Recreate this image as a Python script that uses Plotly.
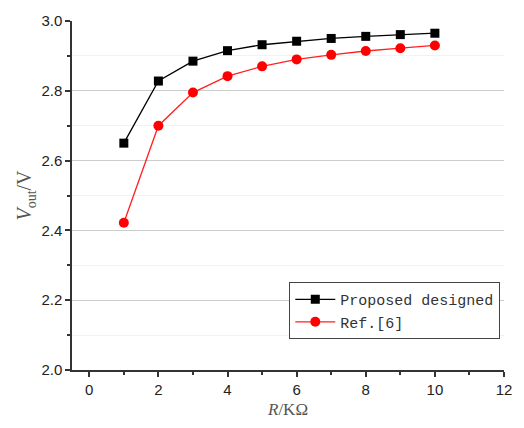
import plotly.graph_objects as go

r_kohm = [1, 2, 3, 4, 5, 6, 7, 8, 9, 10]
proposed = [2.650, 2.828, 2.885, 2.915, 2.932, 2.942, 2.950, 2.956, 2.961, 2.965]
ref6 = [2.422, 2.700, 2.795, 2.842, 2.870, 2.890, 2.903, 2.914, 2.922, 2.930]
series_names = ["Proposed designed", "Ref.[6]"]

fig = go.Figure()
fig.add_trace(go.Scatter(x=r_kohm, y=proposed, name=series_names[0], mode="lines+markers",
                         line=dict(color="black", width=1.3),
                         marker=dict(symbol="square", size=9, color="black")))
fig.add_trace(go.Scatter(x=r_kohm, y=ref6, name=series_names[1], mode="lines+markers",
                         line=dict(color="#ff2020", width=1.3),
                         marker=dict(symbol="circle", size=10, color="#ff0000")))

axis_font = dict(family="Liberation Sans, Arial", size=15, color="#222")
fig.update_layout(
    width=524, height=428,
    margin=dict(l=72, r=14, t=17, b=57),
    paper_bgcolor="white", plot_bgcolor="white",
    showlegend=True,
    legend=dict(x=0.503, y=0.252, xanchor="left", yanchor="top",
                bordercolor="#444", borderwidth=1, bgcolor="white",
                font=dict(family="Liberation Mono", size=15, color="#333"),
                tracegroupgap=0, itemwidth=40),
    xaxis=dict(range=[-0.5, 12], dtick=2, tick0=0, showgrid=False, zeroline=False,
               showline=True, linecolor="#333", linewidth=1.5,
               ticks="outside", ticklen=5, tickcolor="#333", tickwidth=1.5,
               tickfont=axis_font,
               minor=dict(dtick=1, ticks="outside", ticklen=3, tickcolor="#333", showgrid=False),
               title=dict(text="<i>R</i>/KΩ", font=dict(family="Liberation Serif", size=17, color="#555"),
                          standoff=6)),
    yaxis=dict(range=[2.0, 3.0], dtick=0.2, tick0=2.0, tickformat=".1f",
               showgrid=True, gridcolor="#cccccc", gridwidth=1, zeroline=False,
               showline=True, linecolor="#333", linewidth=1.5,
               ticks="outside", ticklen=5, tickcolor="#333", tickwidth=1.5,
               tickfont=axis_font,
               minor=dict(dtick=0.1, ticks="outside", ticklen=3, tickcolor="#333",
                          showgrid=True, gridcolor="#f2f2f2", gridwidth=1),
               title=dict(text="<i>V</i><sub>out</sub>/V", font=dict(family="Liberation Serif", size=20, color="#555"),
                          standoff=4)),
)

fig.write_html("out.html")
